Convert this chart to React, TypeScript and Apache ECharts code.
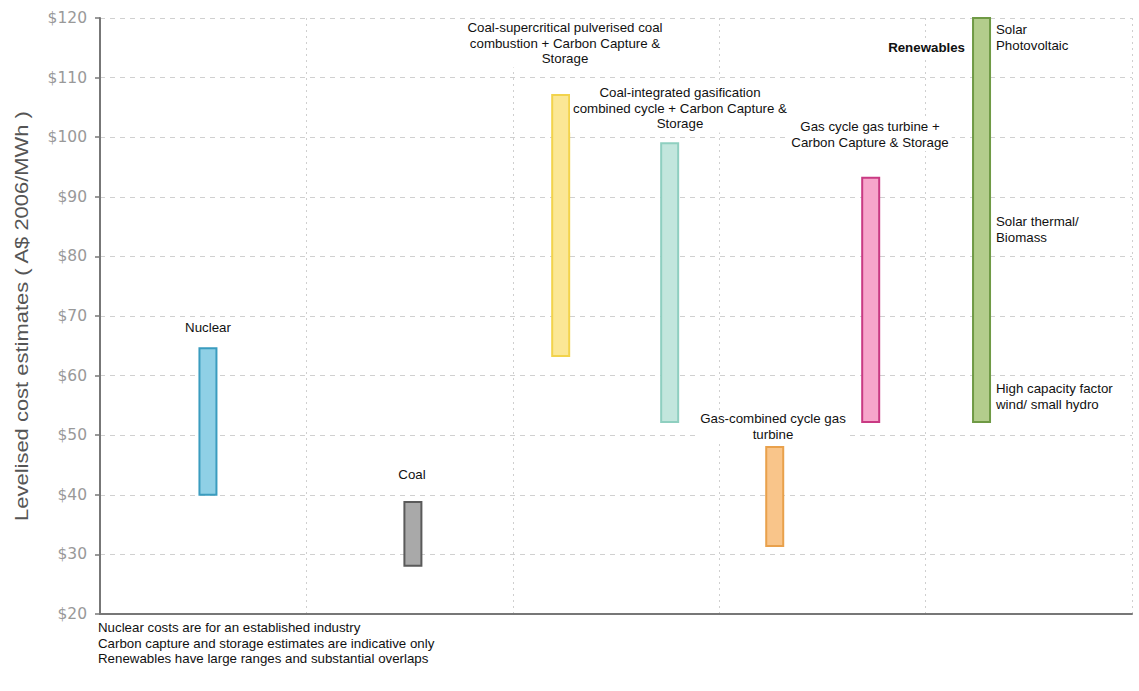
import React, { useEffect, useRef } from "react";
import * as echarts from "echarts";

// ---- data ----
const technologies = [
  "Nuclear",
  "Coal",
  "Coal-supercritical pulverised coal combustion + Carbon Capture & Storage",
  "Coal-integrated gasification combined cycle + Carbon Capture & Storage",
  "Gas-combined cycle gas turbine",
  "Gas cycle gas turbine + Carbon Capture & Storage",
  "Renewables",
];
const xSlots = [0.523, 1.516, 2.232, 2.76, 3.269, 3.734, 4.271];
const lowValues = [40, 28.1, 63.3, 52.2, 31.4, 52.2, 52.2];
const highValues = [64.6, 38.8, 107.1, 99, 48, 93.2, 120];
const yMin = 20;
const yMax = 120;
const yStep = 10;
const footnotes = [
  "Nuclear costs are for an established industry",
  "Carbon capture and storage estimates are indicative only",
  "Renewables have large ranges and substantial overlaps",
];

// ---- styles ----
const fillColors = ["#8fd0e6", "#a9a9a9", "#fbe795", "#c2e6dd", "#f9c58a", "#f7a6cb", "#b3cd8c"];
const strokeColors = ["#3a9cbf", "#5a5a5a", "#f2d34c", "#8fcfc0", "#e9a14c", "#c93a83", "#6f9a45"];
const FONT = "'Liberation Sans', Arial, sans-serif";
const FS = 13.3;

function txt(text: string, x: number, y: number, align: string, extra: any = {}) {
  return {
    type: "text",
    x,
    y,
    z: 50,
    style: {
      text,
      x: 0,
      y: 0,
      fill: "#111",
      font: `${extra.bold ? "bold " : ""}${FS}px ${FONT}`,
      align,
      verticalAlign: "top",
      lineHeight: 15.5,
      backgroundColor: extra.noBg ? undefined : "#fff",
      padding: extra.noBg ? 0 : [1, 3],
    },
  };
}

export default function App() {
  const ref = useRef<HTMLDivElement>(null);
  useEffect(() => {
    if (!ref.current) return;
    const chart = echarts.init(ref.current, undefined, { renderer: "svg" });
    const data = technologies.map((name, i) => ({
      name,
      value: [xSlots[i], lowValues[i], highValues[i]],
    }));
    chart.setOption({
      animation: false,
      backgroundColor: "#fff",
      grid: { left: 100, right: 7, top: 18, bottom: 77 },
      xAxis: {
        type: "value",
        min: 0,
        max: 5,
        interval: 1,
        axisLine: { show: true, onZero: false, lineStyle: { color: "#777", width: 2 } },
        axisTick: { show: false },
        axisLabel: { show: false },
        splitLine: { show: true, lineStyle: { color: "#cfcfcf", type: [2, 4], width: 1 } },
      },
      yAxis: {
        type: "value",
        min: yMin,
        max: yMax,
        interval: yStep,
        axisLine: { show: true, lineStyle: { color: "#777", width: 2 } },
        axisTick: { show: true, length: 5, lineStyle: { color: "#777", width: 1.5 } },
        axisLabel: {
          margin: 13,
          color: "#999",
          fontSize: 15.5,
          fontFamily: "'DejaVu Sans', sans-serif",
          formatter: (v: number) => "$" + v,
        },
        splitLine: { show: true, lineStyle: { color: "#d0d0d0", type: [5, 5], width: 1 } },
      },
      series: [
        {
          type: "custom",
          data,
          encode: { x: 0, y: [1, 2] },
          z: 10,
          renderItem: (params: any, api: any) => {
            const x = api.value(0);
            const lo = api.value(1);
            const hi = api.value(2);
            const top = api.coord([x, hi]);
            const bot = api.coord([x, lo]);
            const w = 17;
            return {
              type: "rect",
              shape: { x: top[0] - w / 2, y: top[1], width: w, height: bot[1] - top[1] },
              style: {
                fill: fillColors[params.dataIndex],
                stroke: strokeColors[params.dataIndex],
                lineWidth: 2,
              },
            };
          },
        },
      ],
      graphic: [
        {
          type: "text",
          x: 22,
          y: 316,
          rotation: Math.PI / 2,
          scaleX: 1.22,
          style: {
            text: "Levelised cost estimates ( A$ 2006/MWh )",
            font: `18px ${FONT}`,
            fill: "#555",
            align: "center",
            verticalAlign: "middle",
          },
        },
        txt("Nuclear", 208, 319, "center"),
        txt("Coal", 412, 466, "center"),
        txt("Coal-supercritical pulverised coal\ncombustion + Carbon Capture &\nStorage", 565, 19, "center"),
        txt("Coal-integrated gasification\ncombined cycle + Carbon Capture &\nStorage", 680, 84, "center"),
        txt("Gas-combined cycle gas\nturbine", 773, 410, "center"),
        txt("Gas cycle gas turbine +\nCarbon Capture & Storage", 870, 118, "center"),
        txt("Renewables", 968, 39, "right", { bold: true }),
        txt("Solar\nPhotovoltaic", 993, 21, "left"),
        txt("Solar thermal/\nBiomass", 993, 213, "left"),
        txt("High capacity factor\nwind/ small hydro", 993, 380, "left"),
        txt(footnotes.join("\n"), 98, 620, "left", { noBg: true }),
      ],
    });
    return () => chart.dispose();
  }, []);
  return (
    <div
      ref={ref}
      style={{ position: "fixed", left: 0, top: 0, width: 1139, height: 691, background: "#fff" }}
    />
  );
}
